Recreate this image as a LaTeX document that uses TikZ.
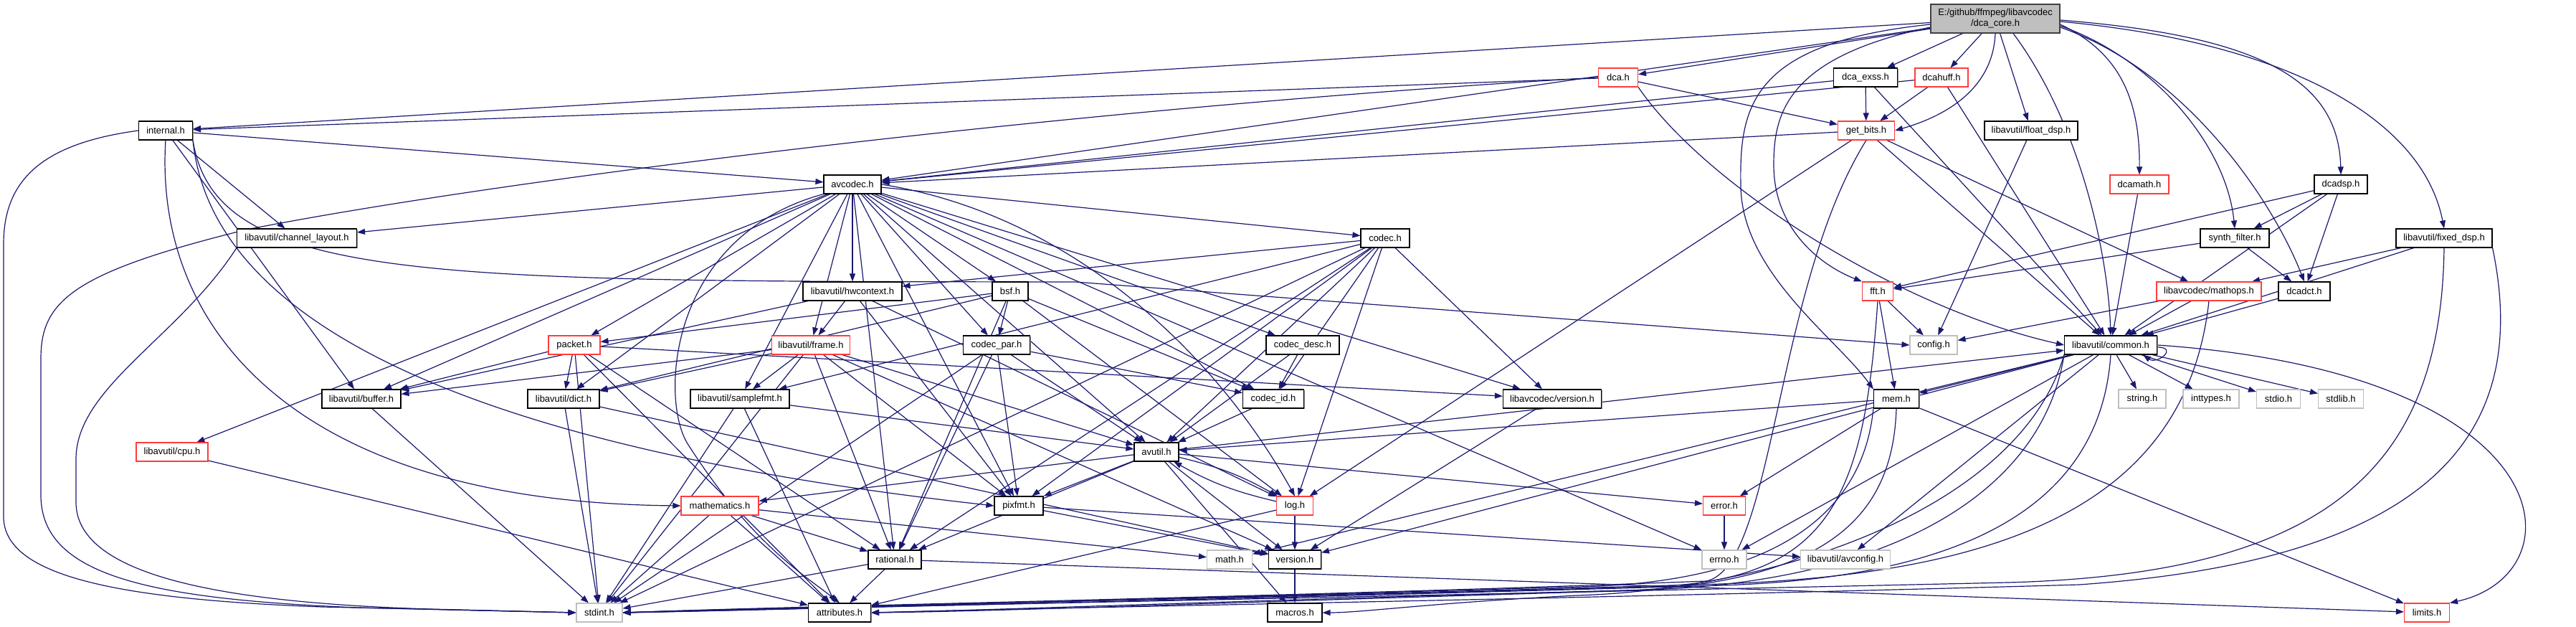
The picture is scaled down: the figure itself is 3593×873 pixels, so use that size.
\documentclass[tikz,border=0pt]{standalone}
\usepackage{fontspec}
\setmainfont{Liberation Sans}
\usetikzlibrary{arrows.meta,shadows}
\definecolor{edgeblue}{RGB}{25,25,112}
\definecolor{rootgray}{RGB}{191,191,191}
\definecolor{truncred}{RGB}{255,60,60}
\pgfdeclarelayer{background}
\pgfsetlayers{background,main}

\begin{document}
\begin{tikzpicture}[x=1pt, y=-1pt, >={Triangle[length=11pt,width=8pt]},
    every node/.style={font=\fontsize{13}{15}\selectfont},
    box/.style={fill=white, line width=1.1pt, rectangle, inner sep=0pt, minimum height=26pt},
    hdr/.style={box, draw=black, general shadow={fill=black!45, shadow xshift=1.3pt, shadow yshift=-1.3pt}},
    trunc/.style={box, draw=truncred},
    sys/.style={box, draw=black!25},
    rootnode/.style={hdr, fill=rootgray, draw=black!75, align=center, minimum height=40pt},
    dep/.style={->, draw=edgeblue, line width=1.2pt}]
    \useasboundingbox (0,0) rectangle (3593,873);

    % Root file
    \node[rootnode, minimum width=180pt] (dcacore) at (2783,26) {E:/github/ffmpeg/libavcodec\\/dca\_core.h};

    % dca headers
    \node[trunc, minimum width=55pt] (dca) at (2257,108) {dca.h};
    \node[hdr, minimum width=89pt] (dcaexss) at (2602,108) {dca\_exss.h};
    \node[trunc, minimum width=74pt] (dcahuff) at (2708,108) {dcahuff.h};
    \node[hdr, minimum width=75pt] (internal) at (231,182) {internal.h};
    \node[trunc, minimum width=79pt] (getbits) at (2603,182) {get\_bits.h};
    \node[hdr, minimum width=130pt] (floatdsp) at (2833,182) {libavutil/float\_dsp.h};
    \node[hdr, minimum width=80pt] (avcodec) at (1189,257) {avcodec.h};
    \node[trunc, minimum width=82pt] (dcamath) at (2984,257) {dcamath.h};
    \node[hdr, minimum width=74pt] (dcadsp) at (3265,257) {dcadsp.h};
    \node[hdr, minimum width=167pt] (chlayout) at (414,332) {libavutil/channel\_layout.h};
    \node[hdr, minimum width=68pt] (codec) at (1932,332) {codec.h};
    \node[hdr, minimum width=96pt] (synth) at (3117,332) {synth\_filter.h};
    \node[hdr, minimum width=134pt] (fixeddsp) at (3409,332) {libavutil/fixed\_dsp.h};
    \node[hdr, minimum width=138pt] (hwcontext) at (1189,406) {libavutil/hwcontext.h};
    \node[hdr, minimum width=50pt] (bsf) at (1409,406) {bsf.h};
    \node[trunc, minimum width=43pt] (fft) at (2619,406) {fft.h};
    \node[trunc, minimum width=146pt] (mathops) at (3081,406) {libavcodec/mathops.h};
    \node[hdr, minimum width=72pt] (dcadct) at (3214,406) {dcadct.h};

    % libavcodec / libavutil headers
    \node[trunc, minimum width=72pt] (packet) at (801,481) {packet.h};
    \node[trunc, minimum width=109pt] (frame) at (1131,481) {libavutil/frame.h};
    \node[hdr, minimum width=93pt] (codecpar) at (1390,481) {codec\_par.h};
    \node[hdr, minimum width=102pt] (codecdesc) at (1817,481) {codec\_desc.h};
    \node[sys, minimum width=66pt] (config) at (2697,481) {config.h};
    \node[hdr, minimum width=129pt] (common) at (2944,481) {libavutil/common.h};
    \node[hdr, minimum width=110pt] (buffer) at (504,556) {libavutil/buffer.h};
    \node[hdr, minimum width=100pt] (dict) at (786,556) {libavutil/dict.h};
    \node[hdr, minimum width=138pt] (samplefmt) at (1032,556) {libavutil/samplefmt.h};
    \node[hdr, minimum width=85pt] (codecid) at (1776,556) {codec\_id.h};
    \node[hdr, minimum width=137pt] (lavcversion) at (2165,556) {libavcodec/version.h};
    \node[hdr, minimum width=63pt] (mem) at (2645,556) {mem.h};
    \node[sys, minimum width=66pt] (string) at (2988,556) {string.h};
    \node[sys, minimum width=78pt] (inttypes) at (3084,556) {inttypes.h};
    \node[sys, minimum width=61pt] (stdio) at (3178,556) {stdio.h};
    \node[sys, minimum width=63pt] (stdlib) at (3265,556) {stdlib.h};
    \node[trunc, minimum width=100pt] (cpu) at (240,630) {libavutil/cpu.h};
    \node[hdr, minimum width=62pt] (avutil) at (1613,630) {avutil.h};
    \node[trunc, minimum width=108pt] (mathematics) at (1004,705) {mathematics.h};
    \node[hdr, minimum width=68pt] (pixfmt) at (1421,705) {pixfmt.h};
    \node[trunc, minimum width=51pt] (log) at (1806,705) {log.h};
    \node[trunc, minimum width=59pt] (error) at (2405,705) {error.h};
    \node[hdr, minimum width=74pt] (rational) at (1248,780) {rational.h};
    \node[sys, minimum width=63pt] (math) at (1715,780) {math.h};
    \node[hdr, minimum width=73pt] (version) at (1806,780) {version.h};
    \node[sys, minimum width=62pt] (errno) at (2405,780) {errno.h};
    \node[sys, minimum width=125pt] (avconfig) at (2574,780) {libavutil/avconfig.h};
    \node[sys, minimum width=64pt] (stdint) at (836,854) {stdint.h};
    \node[hdr, minimum width=87pt] (attributes) at (1171,854) {attributes.h};
    \node[hdr, minimum width=76pt] (macros) at (1806,854) {macros.h};
    \node[trunc, minimum width=63pt] (limits) at (3385,854) {limits.h};

    \begin{pgfonlayer}{background}
    \fill[white] (0,0) rectangle (3593,873);
    % Includes
    \foreach \a/\b in {dcacore/internal, dcacore/avcodec, dcacore/dca, dcacore/dcaexss, dcacore/dcahuff,
        dcacore/floatdsp,
        dca/internal, dca/getbits,
        dcaexss/avcodec, dcaexss/getbits, dcaexss/common,
        dcahuff/avcodec, dcahuff/getbits, dcahuff/common,
        internal/avcodec, internal/chlayout, internal/buffer,
        getbits/avcodec, getbits/mathops, getbits/log, getbits/common,
        floatdsp/config, dcamath/common,
        dcadsp/fft, dcadsp/synth, dcadsp/dcadct, dcadsp/common,
        avcodec/chlayout, avcodec/hwcontext, avcodec/bsf, avcodec/codec, avcodec/codecdesc,
        avcodec/codecpar, avcodec/codecid, avcodec/packet, avcodec/frame, avcodec/samplefmt,
        avcodec/buffer, avcodec/dict, avcodec/cpu, avcodec/avutil, avcodec/pixfmt,
        avcodec/rational, avcodec/lavcversion, avcodec/errno,
        codec/stdint, codec/avutil, codec/hwcontext, codec/log, codec/pixfmt, codec/rational,
        codec/samplefmt, codec/codecid, codec/lavcversion,
        codecdesc/avutil, codecdesc/codecid, codecid/avutil,
        codecpar/stdint, codecpar/avutil, codecpar/rational, codecpar/pixfmt, codecpar/codecid,
        packet/stdint, packet/attributes, packet/buffer, packet/dict, packet/rational, packet/lavcversion,
        bsf/dict, bsf/log, bsf/rational, bsf/codecid, bsf/codecpar, bsf/packet,
        hwcontext/buffer, hwcontext/frame, hwcontext/log, hwcontext/pixfmt,
        frame/stdint, frame/avutil, frame/buffer, frame/dict, frame/rational, frame/samplefmt,
        frame/pixfmt, frame/version,
        samplefmt/stdint, samplefmt/avutil, samplefmt/attributes,
        dict/stdint, dict/version, buffer/stdint, cpu/attributes,
        avutil/common, avutil/error, avutil/rational, avutil/version, avutil/macros,
        avutil/mathematics, avutil/pixfmt,
        common/errno, common/inttypes, common/math, common/stdio, common/stdlib,
        common/string, common/version, common/avconfig, common/mem,
        mem/limits, mem/error, mem/avutil,
        error/errno, log/attributes, log/version, pixfmt/avconfig, pixfmt/version, version/macros,
        rational/stdint, rational/limits, rational/attributes,
        mathematics/stdint, mathematics/math, mathematics/attributes, mathematics/rational,
        lavcversion/version, mathops/config, mathops/common,
        fft/config, fft/mem, synth/fft, synth/dcadct, dcadct/common,
        fixeddsp/common, fixeddsp/mathops}
        \draw[dep] (\a) -- (\b);

    % dca_core.h fan to the right
    \draw[dep] ([yshift=-8pt]dcacore.east) .. controls (2950,70) and (2985,130) .. (dcamath.north);
    \draw[dep] ([yshift=-10pt]dcacore.east) .. controls (3000,80) and (3105,200) .. (synth.north);
    \draw[dep] ([yshift=-12pt]dcacore.east) .. controls (3050,100) and (3170,280) .. (dcadct.north);
    \draw[dep] ([yshift=-2pt]dcacore.east) .. controls (3150,50) and (3262,110) .. (dcadsp.north);
    \draw[dep] ([yshift=-4pt]dcacore.east) .. controls (3200,60) and (3380,170) .. (fixeddsp.north);
    \draw[dep] ([xshift=25pt]dcacore.south) .. controls (2900,170) and (2940,350) .. (common.north);
    \draw[dep] (dcacore.south) .. controls (2780,120) and (2720,160) .. (getbits.east);
    \draw[dep] ([yshift=-8pt]dcacore.west) .. controls (2440,60) and (2426,150) .. (2428,260) .. controls (2430,380) and (2560,470) .. (mem.north west);
    \draw[dep] ([yshift=-12pt]dcacore.west) .. controls (2490,80) and (2474,160) .. (2474,230) .. controls (2474,320) and (2540,370) .. (fft.north west);
    \draw[dep] (dca.south east) .. controls (2380,260) and (2650,430) .. (common.west);

    % Long routes round the left edge
    \draw[dep] (internal.west) .. controls (60,200) and (5,250) .. (5,340) -- (5,720) .. controls (5,800) and (150,835) .. (450,846) -- (stdint.west);
    \draw[dep] (dca.west) .. controls (1500,150) and (700,250) .. (344,320) .. controls (100,380) and (57,420) .. (57,500) -- (57,690) .. controls (57,800) and (200,835) .. (500,847) -- (stdint.west);
    \draw[dep] (chlayout.south west) .. controls (250,470) and (106,540) .. (106,640) -- (106,700) .. controls (106,800) and (300,840) .. (600,849) -- (stdint.west);
    \draw[dep] (internal.south east) .. controls (300,395) and (600,392) .. (1500,393) -- (config.west);
    \draw[dep] (internal.south) .. controls (215,450) and (400,700) .. (mathematics.west);
    \draw[dep] (internal.south east) .. controls (300,500) and (800,640) .. (pixfmt.west);
    \draw[dep] (avcodec.south west) .. controls (930,330) and (920,560) .. (960,620) .. controls (1050,760) and (1120,800) .. (attributes.north);
    \draw[dep] (avcodec.east) .. controls (1500,300) and (1700,500) .. (log.north);

    % Long routes along the bottom
    \draw[dep] (getbits.south) .. controls (2475,400) and (2475,790) .. (2380,810) .. controls (1800,832) and (1100,845) .. (stdint.east);
    \draw[dep] (fft.south) .. controls (2600,700) and (2550,810) .. (2300,818) .. controls (1700,835) and (1100,846) .. (stdint.east);
    \draw[dep] (mathops.south) .. controls (3050,700) and (2800,800) .. (2400,814) .. controls (1700,834) and (1100,847) .. (stdint.east);
    \draw[dep] (fixeddsp.south) .. controls (3405,650) and (3250,800) .. (2800,812) .. controls (2000,830) and (1100,848) .. (stdint.east);
    \draw[dep] (fixeddsp.south east) .. controls (3530,600) and (3400,780) .. (2900,815) .. controls (2200,835) and (1500,846) .. (attributes.east);
    \draw[dep] (common.south) .. controls (2930,700) and (2750,805) .. (2400,816) .. controls (1700,836) and (1100,849) .. (stdint.east);
    \draw[dep] (common.south west) .. controls (2850,680) and (2650,810) .. (2300,822) .. controls (1700,838) and (1400,850) .. (attributes.east);
    \draw[dep] (common.south west) .. controls (2820,700) and (2500,820) .. (2200,830) .. controls (2000,840) and (1900,854) .. (macros.east);
    \draw[dep] (mem.south west) .. controls (2600,700) and (2500,812) .. (2200,818) .. controls (1600,835) and (1100,850) .. (stdint.east);
    \draw[dep] (mem.south) .. controls (2640,720) and (2550,815) .. (2250,824) .. controls (1700,840) and (1400,852) .. (attributes.east);

    % avutil.h and log.h include each other
    \draw[dep] (avutil) to[bend left=8] (log);
    \draw[dep] (log) to[bend left=8] (avutil);
    % common.h
    \draw[dep] (common.east) .. controls (3580,520) and (3600,800) .. (limits.north east);
    \draw[dep] ([yshift=-3pt]common.east) .. controls +(30,0) and +(20,14) .. ([xshift=-20pt]common.south east);
    \end{pgfonlayer}
\end{tikzpicture}
\end{document}
